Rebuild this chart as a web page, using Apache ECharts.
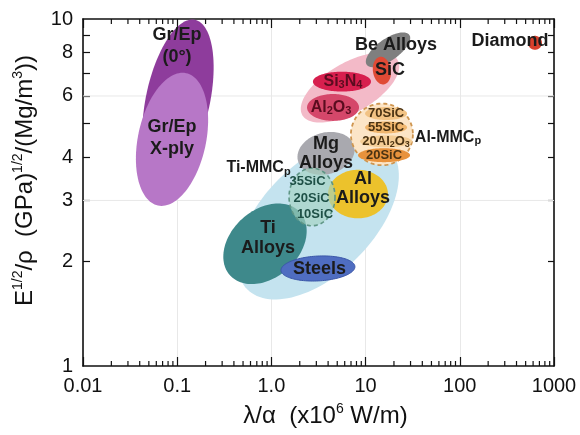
<!DOCTYPE html>
<html>
<head>
<meta charset="utf-8">
<script src="https://cdn.jsdelivr.net/npm/echarts@6/dist/echarts.min.js"></script>
<style>html,body{margin:0;padding:0;background:#fff}#c{width:580px;height:435px}</style>
</head>
<body>
<div id="c"></div>
<script>
// ---------------- data ----------------
const materials = ['Light alloys envelope', 'Ceramics envelope', 'Gr/Ep (0°)', 'Gr/Ep X-ply', 'Ti Alloys', 'Steels',
  'Mg Alloys', 'Al Alloys', 'Ti-MMCp', 'Al-MMCp', '70SiC', '55SiC', '20Al2O3', '20SiC', 'Si3N4', 'Al2O3',
  'Be Alloys', 'SiC', 'Diamond'];
// centre of each property region: lambda/alpha (x10^6 W/m) and E^1/2/rho
const lambdaAlpha = [3.12, 6.83, 0.102, 0.0881, 0.855, 3.12, 3.80, 8.30, 2.70, 14.9, 16.5, 16.5, 16.5, 15.7, 5.61, 4.51, 17.3, 14.9, 628];
const stiffness   = [2.66, 6.34, 5.86, 4.50, 2.25, 1.91, 4.10, 3.13, 3.07, 4.65, 5.34, 4.87, 4.44, 4.05, 6.60, 5.56, 8.15, 7.10, 8.54];
// half extent of each region, in decades
const lambdaHalfDecades = [1.062, 0.584, 0.340, 0.361, 0.500, 0.393, 0.308, 0.318, 0.244, 0.329, 0.223, 0.223, 0.276, 0.276, 0.308, 0.276, 0.276, 0.0955, 0.0743];
const stiffHalfDecades  = [0.160, 0.0716, 0.235, 0.195, 0.0975, 0.0358, 0.060, 0.0700, 0.083, 0.0888, 0.0186, 0.0172, 0.0172, 0.0200, 0.0287, 0.0387, 0.0315, 0.0401, 0.0201];
const tiltDeg = [-45, -30, 12, 12, -42, -3, -15, 0, 0, 0, 0, 0, 0, 0, 0, 0, -35, -8, 0];

// annotations
const labelText = ['Gr/Ep\n(0°)', 'Gr/Ep\nX-ply', 'Be Alloys', 'SiC', 'Si{b|3}N{b|4}', 'Al{b|2}O{b|3}', 'Diamond',
  '70SiC', '55SiC', '20Al{b|2}O{b|3}', '20SiC', 'Al-MMC{b|p}', 'Mg\nAlloys', 'Al\nAlloys', 'Ti\nAlloys', 'Steels',
  'Ti-MMC{b|p}', '35SiC', '20SiC', '10SiC'];
const labelX = [0.0995, 0.0881, 21.0, 18.2, 5.75, 4.29, 341, 16.5, 16.5, 16.5, 15.7, 74.9, 3.80, 9.38, 0.920, 3.24, 0.730, 2.42, 2.67, 2.90];
const labelY = [8.37, 4.55, 8.42, 7.14, 6.60, 5.56, 8.65, 5.34, 4.87, 4.44, 4.05, 4.56, 4.10, 3.24, 2.334, 1.903, 3.72, 3.40, 3.05, 2.74];

// axes
const xTickLabels = ['0.01', '0.1', '1.0', '10', '100', '1000'];
const xDecades = [0.01, 0.1, 1, 10, 100];
const minorMultipliers = [2, 3, 4, 5, 6, 7, 8, 9];
const yTickValues = [1, 2, 3, 4, 6, 8, 10];
const yMinorTicks = [2, 3, 4, 5, 6, 7, 8, 9];
const yGridValues = [3, 6];

// ---------------- styles ----------------
const FONT = "'Liberation Sans', Arial, Helvetica, sans-serif";
const regionStyle = [
  {fill: '#c4e3ef'},
  {fill: '#f3bac8'},
  {fill: '#8e3c9c'},
  {fill: '#b777c7'},
  {fill: '#3e898b'},
  {fill: '#4f6dc1', stroke: '#3a56a8', lineWidth: 1},
  {fill: '#a9a9af'},
  {fill: '#ecc22c'},
  {fill: 'rgba(165,210,192,0.65)', stroke: '#5f9686', lineWidth: 1.6, dash: [4, 3]},
  {fill: '#fce5c7', stroke: '#cf9650', lineWidth: 1.8, dash: [4, 3]},
  {fill: '#f2c384'},
  {fill: '#f0b66e'},
  {fill: '#f4cd96'},
  {fill: '#e8923c'},
  {fill: '#d71f4e'},
  {fill: '#d5476a'},
  {fill: '#7f7f7f'},
  {fill: '#e04a35'},
  {fill: '#d7402c'}
];
const labelStyle = [
  {size: 18, lh: 22}, {size: 18, lh: 22}, {size: 18}, {size: 18}, {size: 16, color: '#5a0c1f'}, {size: 16, color: '#5a0c1f'},
  {size: 18}, {size: 13, color: '#4a3212'}, {size: 13, color: '#4a3212'}, {size: 13, color: '#4a3212'}, {size: 13, color: '#4a3212'},
  {size: 16}, {size: 18, lh: 19}, {size: 18, lh: 19}, {size: 18, lh: 20}, {size: 18},
  {size: 16}, {size: 13, color: '#1e5046'}, {size: 13, color: '#1e5046'}, {size: 13, color: '#1e5046'}
];

const chart = echarts.init(document.getElementById('c'), null, {renderer: 'canvas'});

function renderRegion(params, api) {
  const i = params.dataIndex;
  const xc = api.value(0), yc = api.value(1), hx = api.value(2), hy = api.value(3), t = api.value(4);
  const c = api.coord([xc, yc]);
  const a = api.coord([xc * Math.pow(10, hx), yc])[0] - c[0];
  const b = c[1] - api.coord([xc, yc * Math.pow(10, hy)])[1];
  const th = t * Math.PI / 180, ct = Math.cos(th), st = Math.sin(th);
  const pts = [];
  for (let k = 0; k < 120; k++) {
    const p = 2 * Math.PI * k / 120;
    const ex = a * Math.cos(p), ey = b * Math.sin(p);
    pts.push([c[0] + ex * ct - ey * st, c[1] + ex * st + ey * ct]);
  }
  const s = regionStyle[i];
  return {
    type: 'polygon', shape: {points: pts},
    style: {fill: s.fill, stroke: s.stroke || null, lineWidth: s.lineWidth || 0, lineDash: s.dash || null}
  };
}

function renderLabel(params, api) {
  const i = params.dataIndex;
  const p = api.coord([api.value(0), api.value(1)]);
  const s = labelStyle[i];
  return {
    type: 'text', x: p[0], y: p[1],
    style: {
      text: labelText[i], fill: s.color || '#1b1b1b', fontFamily: FONT, fontWeight: 'bold', fontSize: s.size,
      lineHeight: s.lh || s.size + 2, align: 'center', verticalAlign: 'middle',
      rich: {b: {fontSize: Math.round(s.size * 0.68), fontWeight: 'bold', fontFamily: FONT, fill: s.color || '#1b1b1b', verticalAlign: 'bottom'}}
    }
  };
}

function renderTicks(params, api) {
  const ch = [];
  const yb = api.coord([1, 1])[1], yt = api.coord([1, 10])[1];
  const st = {stroke: '#111', lineWidth: 1.2};
  xDecades.forEach(d => minorMultipliers.forEach(m => {
    const x = api.coord([m * d, 1])[0];
    ch.push({type: 'line', shape: {x1: x, y1: yb, x2: x, y2: yb - 5}, style: st});
    ch.push({type: 'line', shape: {x1: x, y1: yt, x2: x, y2: yt + 5}, style: st});
  }));
  return {type: 'group', children: ch};
}

function renderGrid(params, api) {
  const ch = [];
  const xl = api.coord([0.01, 1])[0], xr = api.coord([1000, 1])[0];
  yGridValues.forEach(v => {
    const y = api.coord([1, v])[1];
    ch.push({type: 'line', shape: {x1: xl, y1: y, x2: xr, y2: y}, style: {stroke: '#e8e8e8', lineWidth: 1}});
  });
  return {type: 'group', children: ch};
}

const tickFont = {fontFamily: FONT, fontSize: 20, color: '#111'};
const axisLineStyle = {show: true, lineStyle: {color: '#111', width: 1.6}};

chart.setOption({
  animation: false,
  backgroundColor: '#fff',
  grid: {left: 83, top: 19, right: 26, bottom: 67},
  xAxis: [{
    type: 'log', logBase: 10, min: 0.01, max: 1000, position: 'bottom',
    axisLine: axisLineStyle,
    axisTick: {show: true, inside: true, length: 9, lineStyle: {color: '#111', width: 1.2}},
    axisLabel: Object.assign({margin: 10, formatter: v => xTickLabels[Math.round(Math.log10(v)) + 2]}, tickFont),
    splitLine: {show: true, lineStyle: {color: '#e8e8e8', width: 1}},
    name: 'λ/α  (x10{s|6} W/m)', nameLocation: 'middle', nameGap: 36,
    nameTextStyle: {fontFamily: FONT, fontSize: 24, color: '#111', lineHeight: 28, padding: [0, 0, 0, 14],
      rich: {s: {fontSize: 14, fontFamily: FONT, color: '#111', verticalAlign: 'top'}}}
  }, {
    type: 'log', logBase: 10, min: 0.01, max: 1000, position: 'top',
    axisLine: axisLineStyle,
    axisTick: {show: true, inside: true, length: 9, lineStyle: {color: '#111', width: 1.2}},
    axisLabel: {show: false}, splitLine: {show: false}
  }],
  yAxis: [{
    type: 'log', logBase: 10, min: 1, max: 10, position: 'left',
    axisLine: axisLineStyle,
    axisTick: {show: true, inside: true, length: 7, customValues: yMinorTicks, lineStyle: {color: '#111', width: 1.2}},
    axisLabel: Object.assign({margin: 10, customValues: yTickValues, formatter: v => String(Math.round(v))}, tickFont),
    splitLine: {show: false},
    name: 'E{s|1/2}/ρ  (GPa){s|1/2}/(Mg/m{s|3}))', nameLocation: 'middle', nameGap: 44,
    nameTextStyle: {fontFamily: FONT, fontSize: 24, color: '#111', lineHeight: 28, padding: [0, 0, 0, 24],
      rich: {s: {fontSize: 14, fontFamily: FONT, color: '#111', verticalAlign: 'top'}}}
  }, {
    type: 'log', logBase: 10, min: 1, max: 10, position: 'right',
    axisLine: axisLineStyle,
    axisTick: {show: true, inside: true, length: 6, customValues: yMinorTicks, lineStyle: {color: '#111', width: 1.2}},
    axisLabel: {show: false}, splitLine: {show: false}
  }],
  series: [
    {type: 'custom', name: 'grid', z: 1, silent: true, xAxisIndex: 0, yAxisIndex: 0, renderItem: renderGrid, data: [[1, 1]]},
    {
      type: 'custom', name: 'regions', z: 2, silent: true, xAxisIndex: 0, yAxisIndex: 0, clip: true,
      renderItem: renderRegion,
      data: materials.map((m, i) => ({name: m, value: [lambdaAlpha[i], stiffness[i], lambdaHalfDecades[i], stiffHalfDecades[i], tiltDeg[i]]}))
    },
    {
      type: 'custom', name: 'labels', z: 4, silent: true, xAxisIndex: 0, yAxisIndex: 0,
      renderItem: renderLabel,
      data: labelText.map((t, i) => [labelX[i], labelY[i]])
    },
    {type: 'custom', name: 'ticks', z: 5, silent: true, xAxisIndex: 0, yAxisIndex: 0, renderItem: renderTicks, data: [[1, 1]]}
  ]
});
</script>
</body>
</html>
